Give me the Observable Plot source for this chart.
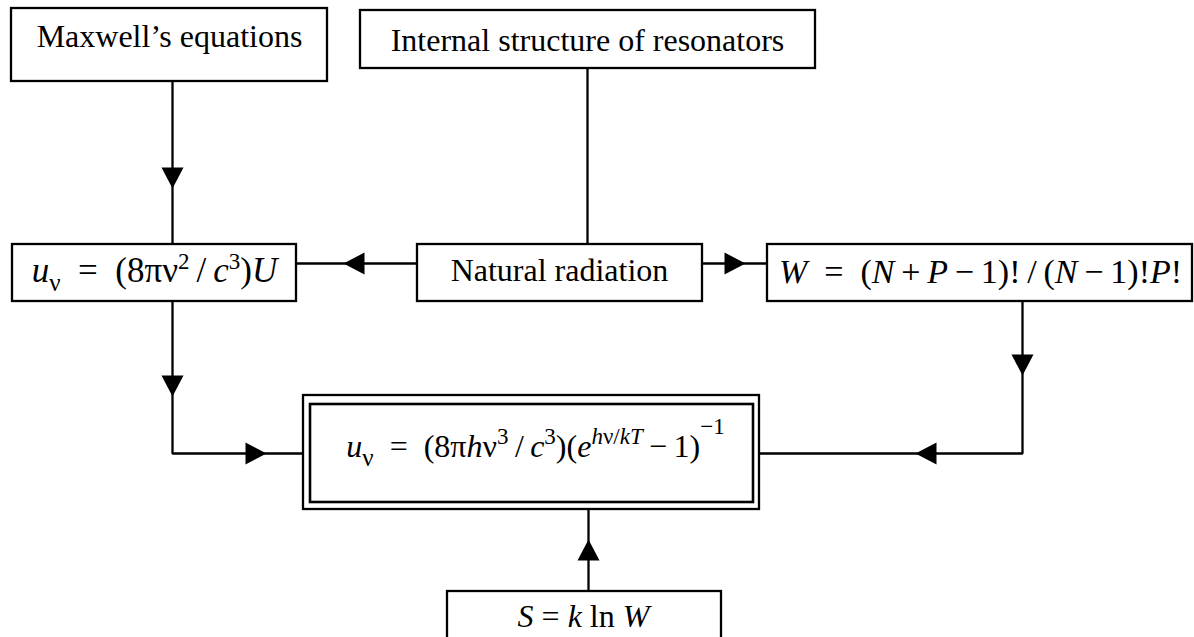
<!DOCTYPE html>
<html>
<head>
<meta charset="utf-8">
<script src="https://cdn.jsdelivr.net/npm/d3@7"></script>
<script src="https://cdn.jsdelivr.net/npm/@observablehq/plot@0.6"></script>
<style>
  html, body { margin: 0; padding: 0; background: #fff; }
  #chart svg text { white-space: pre; }
</style>
</head>
<body>
<div id="chart"></div>
<script>
// ---- Diagram data (coordinates in a 1194 x 637 drawing space, y down) ----
const boxNames = ["maxwell", "internal", "rayleigh", "natural", "combinatorics", "planck", "entropy"];
const boxX1 = [11, 360, 12, 417, 767, 303, 447];
const boxX2 = [327, 815, 296, 702, 1192, 759, 721];
const boxY1 = [8, 10, 244, 244, 244, 395, 591];
const boxY2 = [81, 68, 301, 301, 301, 509, 660];

// label anchor (centre x, baseline y), font size and rich-text fragments per box
const labelX = [169, 587, 154, 559, 980, 535, 583];
const labelY = [46, 50, 281, 280, 282, 456, 626];
const labelSize = [32, 32, 35, 32, 34, 32, 32];
const labelFrags = [
  [["Maxwell\u2019s equations", "n"]],
  [["Internal structure of resonators", "n"]],
  [["u", "i"], ["\u03bd", "sub"], ["\u2002=\u2002(8\u03c0", "n"], ["\u03bd", "n"], ["2", "sup"], ["\u2009/\u2009", "n"], ["c", "i"], ["3", "sup"], [")", "n"], ["U", "i"]],
  [["Natural radiation", "n"]],
  [["W", "i"], ["\u2002=\u2002(", "n"], ["N", "i"], ["\u2009+\u2009", "n"], ["P", "i"], ["\u2009\u2212\u20091)!\u2009/\u2009(", "n"], ["N", "i"], ["\u2009\u2212\u20091)!", "n"], ["P", "i"], ["!", "n"]],
  [["u", "i"], ["\u03bd", "sub"], ["\u2002=\u2002(8\u03c0", "n"], ["h", "i"], ["\u03bd", "n"], ["3", "sup"], ["\u2009/\u2009", "n"], ["c", "i"], ["3", "sup"], [")(", "n"], ["e", "i"], ["h", "supi"], ["\u03bd", "sup"], ["/", "sup"], ["kT", "supi"], ["\u2009\u2212\u20091)", "n"], ["\u22121", "sup2"]],
  [["S", "i"], [" = ", "n"], ["k", "i"], [" ln ", "n"], ["W", "i"]]
];

// inner frame of the double-bordered result box
const innerX1 = [310];
const innerX2 = [753];
const innerY1 = [404];
const innerY2 = [502];

// connectors (polylines)
const wireIds = ["maxwell", "internal", "nr-left", "nr-right", "rayleigh-down", "comb-down", "entropy-up"];
const wirePoints = [
  [[172, 81], [172, 244]],
  [[587, 68], [587, 244]],
  [[417, 263], [296, 263]],
  [[702, 263], [767, 263]],
  [[172, 301], [172, 453], [303, 453]],
  [[1022, 301], [1022, 453], [759, 453]],
  [[588, 591], [588, 509]]
];

// arrowheads: tip position and direction (degrees, 0 = up)
const arrowX = [172, 172, 266, 343, 745, 1022, 915, 588];
const arrowY = [188, 396, 453, 263, 263, 375, 453, 539];
const arrowDir = [180, 180, 90, 270, 90, 180, 270, 0];

// ---- Build tables ----
const boxes = boxNames.map((name, i) => ({name, x1: boxX1[i], x2: boxX2[i], y1: boxY1[i], y2: boxY2[i]}));
const inner = innerX1.map((_, i) => ({x1: innerX1[i], x2: innerX2[i], y1: innerY1[i], y2: innerY2[i]}));
const labels = boxNames.map((name, i) => ({name, x: labelX[i], y: labelY[i], size: labelSize[i], frags: labelFrags[i]}));
const wires = wireIds.flatMap((id, i) => wirePoints[i].map(([x, y]) => ({id, x, y})));
const arrows = arrowX.map((x, i) => ({x, y: arrowY[i], dir: arrowDir[i]}));

// arrowhead symbol with its tip at the origin, pointing up
const arrowHead = {
  draw(context, size) {
    const L = 21, W = 22;
    context.moveTo(0, 0);
    context.lineTo(W / 2, L);
    context.lineTo(-W / 2, L);
    context.closePath();
  }
};

const chart = Plot.plot({
  width: 1194,
  height: 637,
  margin: 0,
  style: {background: "#fff", fontFamily: "'Liberation Serif', 'Times New Roman', serif", color: "#000"},
  x: {domain: [0, 1194], axis: null},
  y: {domain: [0, 637], reverse: true, axis: null},
  marks: [
    Plot.line(wires, {x: "x", y: "y", z: "id", stroke: "#000", strokeWidth: 2.3, strokeLinejoin: "miter", strokeLinecap: "butt"}),
    Plot.rect(boxes, {x1: "x1", x2: "x2", y1: "y1", y2: "y2", fill: "#fff", stroke: "#000", strokeWidth: 2.3}),
    Plot.rect(inner, {x1: "x1", x2: "x2", y1: "y1", y2: "y2", fill: "none", stroke: "#000", strokeWidth: 2.6}),
    Plot.dot(arrows, {x: "x", y: "y", rotate: "dir", symbol: arrowHead, fill: "#000", stroke: "none", r: 5}),
    Plot.text(labels, {
      x: "x", y: "y",
      text: d => d.frags.map(f => f[0]).join(""),
      fontSize: "size", fill: "#000", textAnchor: "middle", lineAnchor: "bottom"
    })
  ]
});

// rich text: italics, sub- and superscripts as tspans
const fragStyle = {
  n: {italic: false, size: null, shift: 0},
  i: {italic: true, size: null, shift: 0},
  sub: {italic: false, size: 25, shift: 9},
  sup: {italic: false, size: 23, shift: -13},
  supi: {italic: true, size: 23, shift: -13},
  sup2: {italic: false, size: 23, shift: -23}
};
d3.select(chart).selectAll('g[aria-label="text"] text').each(function(_, i) {
  const t = d3.select(this);
  t.text(null);
  let cur = 0;
  for (const [str, kind] of labels[i].frags) {
    const s = fragStyle[kind];
    const ts = t.append("tspan").text(str);
    if (s.italic) ts.attr("font-style", "italic");
    if (s.size) ts.attr("font-size", s.size);
    if (s.shift !== cur) { ts.attr("dy", s.shift - cur); cur = s.shift; }
  }
});

document.getElementById("chart").appendChild(chart);
</script>
</body>
</html>
